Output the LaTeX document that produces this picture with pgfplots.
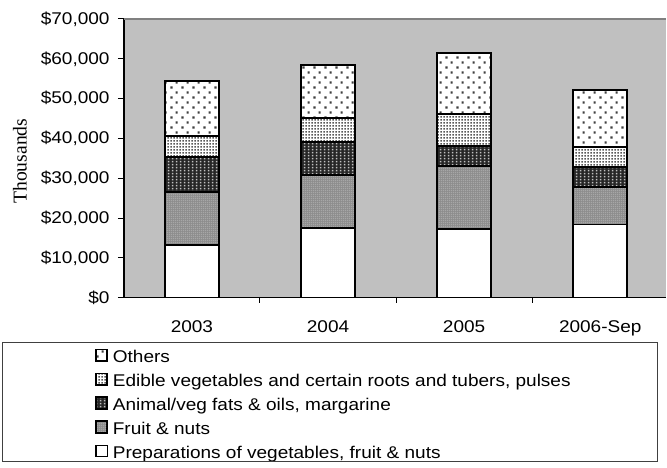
\documentclass[border=0pt]{standalone}
\usepackage{fontspec}
\setmainfont{Liberation Sans}[FakeStretch=1.12]
\newfontfamily\thousfont{Liberation Serif}
\usepackage{pgfplots}
\pgfplotsset{compat=1.18}
\usetikzlibrary{patterns.meta}
\definecolor{bggray}{HTML}{C0C0C0}

\tikzdeclarepattern{name=othersdots, type=uncolored,
  bottom left={(0pt,0pt)}, top right={(6.4pt,6pt)}, tile size={(6.4pt,6pt)},
  code={\fill (0.3pt,0.3pt) rectangle (1.6pt,1.6pt); \fill (3.5pt,3.3pt) rectangle (4.8pt,4.6pt);}}
\tikzdeclarepattern{name=vegdots, type=uncolored,
  bottom left={(0pt,0pt)}, top right={(1.8pt,1.8pt)}, tile size={(1.8pt,1.8pt)},
  code={\fill (0.25pt,0.25pt) rectangle (1.15pt,1.15pt);}}
\tikzdeclarepattern{name=fatdots, type=uncolored,
  bottom left={(0pt,0pt)}, top right={(2.4pt,1.8pt)}, tile size={(2.4pt,1.8pt)},
  code={\fill (0.5pt,0.4pt) rectangle (1.4pt,1.3pt);}}
\tikzdeclarepattern{name=fruitdots, type=uncolored,
  bottom left={(0pt,0pt)}, top right={(1.2pt,1.2pt)}, tile size={(1.2pt,1.2pt)},
  code={\fill (0.2pt,0.2pt) rectangle (0.75pt,0.75pt);}}

\begin{document}
\begin{tikzpicture}
\path (-74.4pt,-99pt) rectangle (325.8pt,178.8pt);
\begin{axis}[
  at={(0,0)}, anchor=south west,
  scale only axis, width=325.8pt, height=167.4pt,
  ybar stacked, bar width=32.6pt,
  xmin=-0.5, xmax=3.485, ymin=0, ymax=70000,
  axis background/.style={fill=bggray},
  axis x line*=bottom, axis y line*=left,
  x axis line style={line width=0.9pt, black},
  y axis line style={line width=1.1pt, black},
  tick align=outside,
  xtick={0,1,2,3},
  xticklabels={2003,2004,2005,2006-Sep},
  major x tick style={draw=none},
  minor xtick={0.5,1.5,2.5,3.5},
  minor x tick style={black, line width=0.6pt},
  minor tick length=3pt,
  major tick length=3.6pt,
  ytick={0,10000,...,70000},
  y tick style={black, line width=0.6pt},
  scaled y ticks=false,
  /pgf/number format/.cd, fixed, precision=0, 1000 sep={,}, assume math mode=true,
  /pgfplots/.cd,
  yticklabel={\$\pgfmathprintnumber{\tick}},
  tick label style={font=\fontsize{10.2}{12}\selectfont},
  yticklabel style={inner sep=0pt, xshift=-4.8pt},
  xticklabel style={inner sep=0pt, anchor=north, yshift=-10pt},
  ylabel={Thousands},
  ylabel style={font=\thousfont\fontsize{11.8}{14}\selectfont, at={(axis description cs:-0.1915,0.49)}, anchor=center, rotate=0},
  legend style={at={(axis description cs:-0.0534,-0.1792)}, anchor=north west,
    draw=none, fill=none, inner sep=0pt, row sep=0pt,
    font=\fontsize{10.2}{12}\selectfont,
    cells={anchor=west},
    nodes={inner sep=0pt, text height=9pt, text depth=5.4pt},
    /tikz/every odd column/.append style={column sep=3pt}},
  legend image code/.code={\draw[#1, line width=0.8pt] (0pt,-0.5pt) rectangle (6.8pt,6.3pt);},
  reverse legend,
  after end axis/.code={\draw[black!50, line width=0.8pt] (rel axis cs:0,1) -- (rel axis cs:1,1);},
]
\addplot[draw=black, line width=1.1pt, fill=white] coordinates {(0,13200) (1,17400) (2,17200) (3,18400)};
\addlegendentry{Preparations of vegetables, fruit \& nuts}
\addplot[draw=black, line width=1.1pt, preaction={fill=black!45}, pattern=fruitdots, pattern color=white!80!black] coordinates {(0,13400) (1,13400) (2,15900) (3,9300)};
\addlegendentry{Fruit \& nuts}
\addplot[draw=black, line width=1.1pt, preaction={fill=black!85}, pattern=fatdots, pattern color=white!75!black] coordinates {(0,8800) (1,8400) (2,5100) (3,5200)};
\addlegendentry{Animal/veg fats \& oils, margarine}
\addplot[draw=black, line width=1.1pt, preaction={fill=white}, pattern=vegdots, pattern color=black!65] coordinates {(0,5200) (1,6000) (2,7900) (3,5000)};
\addlegendentry{Edible vegetables and certain roots and tubers, pulses}
\addplot[draw=black, line width=1.1pt, preaction={fill=white}, pattern=othersdots, pattern color=black!75] coordinates {(0,13900) (1,13200) (2,15300) (3,14300)};
\addlegendentry{Others}
\end{axis}
\draw[black!75, line width=0.6pt] (-72.6pt,-27pt) rectangle (320.4pt,-98.6pt);
\end{tikzpicture}
\end{document}
